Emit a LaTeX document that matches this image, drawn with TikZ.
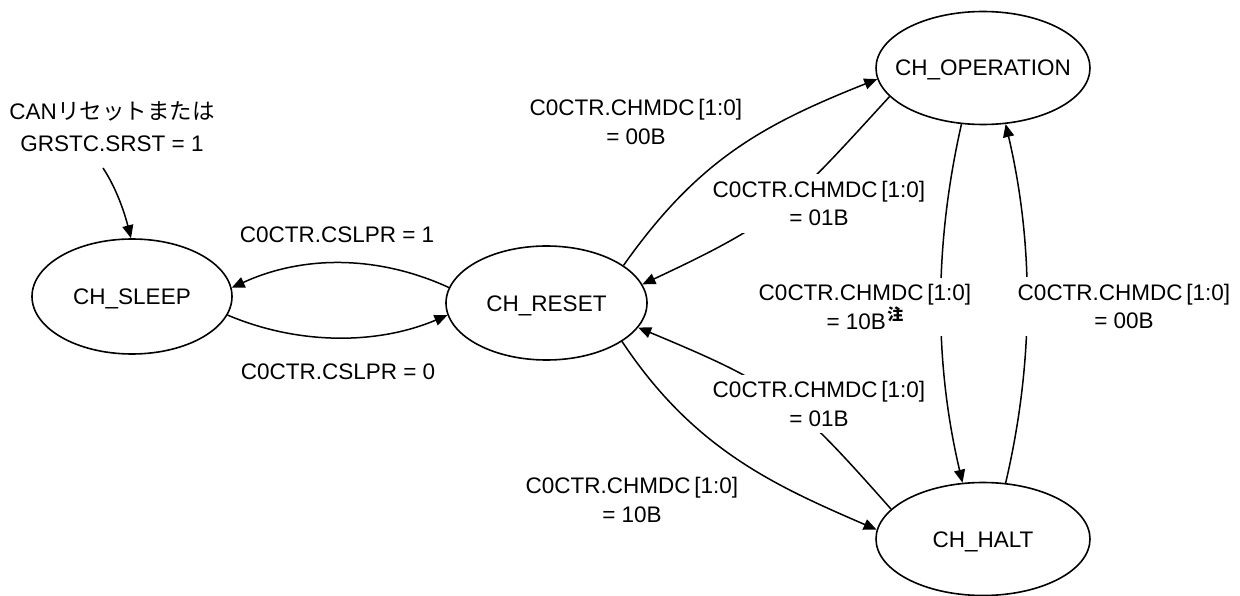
\documentclass[tikz,border=0pt]{standalone}
\usepackage{fontspec}
\setmainfont{Liberation Sans}
\newfontfamily\cjk{Noto Sans CJK JP}
\usetikzlibrary{shapes.geometric,arrows.meta}
\begin{document}
\begin{tikzpicture}[x=1pt,y=-1pt,
  every node/.style={font=\fontsize{22.5}{28.3}\selectfont},
  state/.style={ellipse,draw,line width=1.6pt,inner sep=0pt,text height=16pt,text depth=0pt},
  arr/.style={line width=1.5pt,-{Triangle[length=13pt,width=11pt]}},
  lab/.style={align=center,inner sep=0pt},
  wlab/.style={align=center,fill=white,inner xsep=2pt,inner ysep=7pt}]
\useasboundingbox (0,0) rectangle (1240,596);
% states
\node[state,minimum width=200pt,minimum height=115pt] (sleep) at (132,296.5) {\makebox[0pt]{CH\_SLEEP}};
\node[state,minimum width=201pt,minimum height=114pt] (reset) at (546.5,303) {\makebox[0pt]{CH\_RESET}};
\node[state,minimum width=214pt,minimum height=113pt] (op) at (983,68) {\makebox[0pt]{CH\_OPERATION}};
\node[state,minimum width=214pt,minimum height=113pt] (halt) at (983,539) {\makebox[0pt]{CH\_HALT}};
% initial
\node[lab] (l0) at (112,126.5) {CAN{\cjk リセットまたは}\\[4.3pt]GRSTC.SRST = 1};
\coordinate (init) at (103,168);
\draw[arr] (init) .. controls (116.8,188.8) and (124.8,213.8) .. (sleep.91);
% edges
\draw[arr] (reset.171.3) .. controls (378,255) and (303,255) .. (sleep.5.4);
\draw[arr] (sleep.-11.5) .. controls (298,345) and (377,345) .. (reset.187.4);
\draw[arr] (reset.26.7) .. controls (698,160) and (762,125) .. (op.186.5);
\draw[arr] (op.197.9) .. controls (787.7,207.7) and (778.9,220.5) .. (reset.11.1);
\draw[arr] (op.249.4) .. controls (934,245) and (934,362) .. (halt.110);
\draw[arr] (halt.68.6) .. controls (1034,362) and (1034,245) .. (op.292.8);
\draw[arr] (halt.162.7) .. controls (791.6,396.75) and (777.5,385.6) .. (reset.-15.1);
\draw[arr] (reset.-27.3) .. controls (694,450) and (776,486) .. (halt.175.1);
% labels
\node[lab] (s1) at (337,235) {C0CTR.CSLPR = 1};
\node[lab] (s0) at (338,372) {C0CTR.CSLPR = 0};
\node[lab] (l1) at (636,122) {C0CTR.CHMDC\,[1:0]\\= 00B};
\node[wlab] (l2) at (819,203.5) {C0CTR.CHMDC\,[1:0]\\= 01B};
\node[wlab] (l3) at (865,307) {C0CTR.CHMDC\,[1:0]\\= 10B\hspace{1.5pt}\raisebox{8.5pt}{\cjk\fontsize{16}{16}\selectfont\bfseries 注}};
\node[wlab] (l4) at (1124,306.5) {C0CTR.CHMDC\,[1:0]\\= 00B};
\node[wlab] (l5) at (819,404) {C0CTR.CHMDC\,[1:0]\\= 01B};
\node[lab] (l6) at (632,500) {C0CTR.CHMDC\,[1:0]\\= 10B};
\end{tikzpicture}
\end{document}
